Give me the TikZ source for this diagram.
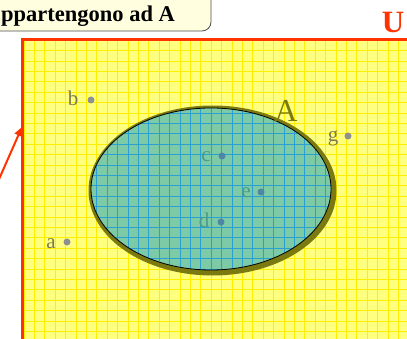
\documentclass[tikz,border=0pt]{standalone}
\usepackage{fontspec}
\setmainfont{Liberation Serif}
\usetikzlibrary{arrows.meta}
\definecolor{ured}{HTML}{FF3300}
\definecolor{uyel}{HTML}{FFFF80}
\definecolor{ugrid}{HTML}{FFEE00}
\definecolor{efill}{HTML}{7CCAA6}
\definecolor{egrid}{HTML}{2A9FD0}
\definecolor{olive2}{HTML}{7A7A10}
\definecolor{lbl}{HTML}{7A7A50}
\definecolor{lblin}{HTML}{4F9A85}
\definecolor{dotout}{HTML}{909090}
\definecolor{dotin}{HTML}{4F86A8}
\definecolor{boxfill}{HTML}{FFFFE0}
\tikzset{
  lab/.style={font=\fontsize{21}{21}\selectfont, text=lbl, inner sep=0pt},
  labin/.style={font=\fontsize{21}{21}\selectfont, text=lblin, inner sep=0pt},
  dotpt/.style={circle, fill=dotout, inner sep=0pt, minimum size=7pt},
  dotptin/.style={circle, fill=dotin, inner sep=0pt, minimum size=7pt},
  gridlines/.style={line width=0.9pt},
}
\newcommand{\mygrid}{%
  \foreach \i in {0,...,38} {\draw[gridlines] ({24+10.4*\i},40) -- ({24+10.4*\i},350);}%
  \foreach \j in {0,...,30} {\draw[gridlines] (22,{40.3+10.4*\j}) -- (420,{40.3+10.4*\j});}%
}
\begin{document}
\begin{tikzpicture}[x=1pt,y=-1pt]
\useasboundingbox (0,0) rectangle (407,339);
\clip (0,0) rectangle (407,339);
% top callout box
\draw[fill=boxfill, draw=black!70, line width=0.8pt, rounded corners=9pt] (-20,-20) rectangle (211,31);
\node[anchor=base west, inner sep=0pt, font=\fontsize{22.5}{22.5}\bfseries\selectfont] (title) at (1,22) {ppartengono ad A};
% U label
\node[anchor=base, inner sep=0pt, text=ured, font=\fontsize{31}{31}\bfseries\selectfont] (U) at (393,33) {U};
% universe
\fill[uyel] (22,40) rectangle (420,350);
\begin{scope}[ugrid]
\clip (22,40) rectangle (420,350);
\mygrid
\end{scope}
\draw[ured, line width=3pt] (22,40) rectangle (420,350);
% ellipse shadow and body
\fill[olive2] (212.5,190.5) ellipse [x radius=124, y radius=85];
\fill[efill] (211,189) ellipse [x radius=120, y radius=81];
\begin{scope}[egrid]
\clip (211,189) ellipse [x radius=120, y radius=81];
\mygrid
\end{scope}
\draw[black, line width=0.8pt] (211,189) ellipse [x radius=120, y radius=81];
% set label
\node[anchor=base, inner sep=0pt, text=olive2, font=\fontsize{32}{32}\selectfont] (A) at (286,122) {A};
% elements
\node[lab, anchor=base] (lb) at (73,106) {b};
\node[dotpt] (pb) at (91,100) {};
\node[lab, anchor=base] (lg) at (333,142) {g};
\node[dotpt] (pg) at (348,136) {};
\node[lab, anchor=base] (la) at (51,248) {a};
\node[dotpt] (pa) at (67,242) {};
\node[labin, anchor=base] (lc) at (206,162) {c};
\node[dotptin] (pc) at (222,156) {};
\node[labin, anchor=base] (le) at (246,198) {e};
\node[dotptin] (pe) at (261,192) {};
\node[labin, anchor=base] (ld) at (204,228) {d};
\node[dotptin] (pd) at (221,222) {};
% arrow
\coordinate (as) at (-4,186);
\coordinate (at) at (22,127);
\draw[ured, line width=2pt, -{Triangle[length=9pt,width=8pt]}] (as) -- (at);
\end{tikzpicture}
\end{document}
